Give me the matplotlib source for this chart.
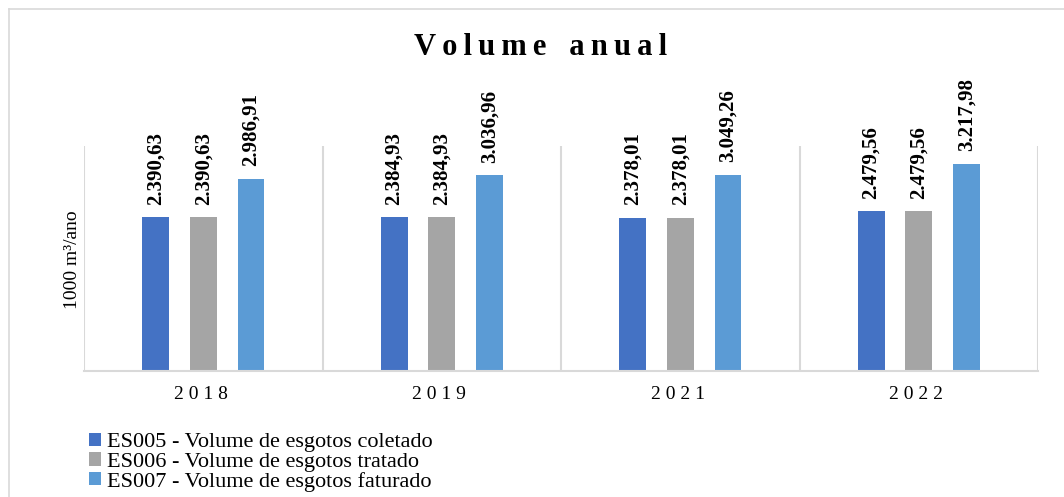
import numpy as np
import matplotlib.pyplot as plt
from matplotlib.lines import Line2D

# ============================== data ======================================= #

anos = ["2018", "2019", "2021", "2022"]
es005 = [2390.63, 2384.93, 2378.01, 2479.56]   # coletado
es006 = [2390.63, 2384.93, 2378.01, 2479.56]   # tratado
es007 = [2986.91, 3036.96, 3049.26, 3217.98]   # faturado

nomes = ["ES005 - Volume de esgotos coletado",
         "ES006 - Volume de esgotos tratado",
         "ES007 - Volume de esgotos faturado"]
cores = ["#4472C4", "#A5A5A5", "#5B9BD5"]

SERIF = ['Liberation Serif', 'DejaVu Serif']
plt.rcParams['font.family'] = SERIF


def fmt_br(v):
    s = "{:,.2f}".format(v)
    return s.replace(",", "X").replace(".", ",").replace("X", ".")


# ============================= figure ====================================== #

fig = plt.figure(figsize=(10.64, 4.97), dpi=100)
ax = fig.add_axes([0.079, 0.2535, 0.8966, 0.4535])

x = np.arange(len(anos))
largura = 0.113
passo = 0.2

for i, (serie, cor) in enumerate(zip([es005, es006, es007], cores)):
    pos = x + (i - 1) * passo
    ax.bar(pos, serie, width=largura, color=cor, label=nomes[i])
    for p, v in zip(pos, serie):
        ax.annotate(fmt_br(v), (p, v), xytext=(0, 9), textcoords="offset points",
                    rotation=90, ha="center", va="bottom", fontsize=15,
                    fontweight="bold", family=SERIF)

ax.set_xlim(-0.5, len(anos) - 0.5)
ax.set_ylim(0, 3500)

# separadores verticais entre categorias
for s in np.arange(-0.5, len(anos), 1.0):
    ax.axvline(s, color="#D9D9D9", lw=1.5, zorder=0)

for lado in ["top", "right", "left"]:
    ax.spines[lado].set_visible(False)
ax.spines["bottom"].set_color("#D9D9D9")
ax.spines["bottom"].set_linewidth(1.5)

ax.set_yticks([])
ax.set_xticks(x)
ax.set_xticklabels([" ".join(a) + " " for a in anos], fontsize=14, family=SERIF)
ax.tick_params(axis="x", length=0, pad=11)

fig.text(0.068, 0.478, "1000 m³/ano", rotation=90, ha="center", va="center",
         fontsize=14, family=SERIF)

fig.text(0.508, 0.905, "\u2009".join("Volume") + "   " + "\u2009".join("anual"),
         ha="center", va="center", fontsize=22, fontweight="bold", family=SERIF)

# moldura externa
fig.add_artist(Line2D([0.0085, 0.0085], [0.0, 0.982], color="#D9D9D9", lw=1.2,
                      transform=fig.transFigure))
fig.add_artist(Line2D([0.0085, 1.0], [0.982, 0.982], color="#D9D9D9", lw=1.2,
                      transform=fig.transFigure))

fig.legend(loc="upper left", bbox_to_anchor=(0.073, 0.152), frameon=False,
           prop={'family': SERIF, 'size': 16}, handlelength=0.55,
           handleheight=0.55, handletextpad=0.25, labelspacing=0.0, borderpad=0)

fig.savefig("out.png", dpi=100)
